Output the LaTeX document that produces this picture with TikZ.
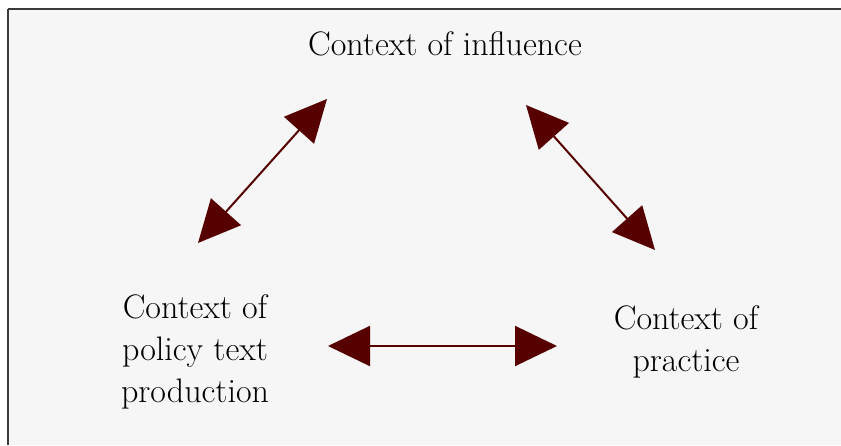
\documentclass[tikz,border=0pt]{standalone}
\usetikzlibrary{arrows.meta}
\definecolor{arrowred}{HTML}{560000}
\definecolor{bggray}{HTML}{F6F6F6}
\definecolor{framegray}{HTML}{3A3A3A}
\begin{document}
\begin{tikzpicture}[x=1pt,y=-1pt,
  label/.style={align=center,inner sep=0pt,font=\fontsize{34}{42}\selectfont},
  twoway/.style={draw=arrowred,line width=2pt,
    {Triangle[length=42pt,width=40pt]}-{Triangle[length=42pt,width=40pt]},fill=arrowred}]
  \useasboundingbox (0,0) rectangle (841,445);
  \fill[white] (0,0) rectangle (841,445);
  \fill[bggray] (8,9) rectangle (841,445);
  \draw[framegray,line width=1.5pt] (8,9) -- (841,9);
  \draw[framegray,line width=2pt] (8,9) -- (8,445);
  % texts
  \node[label,anchor=base] (infl) at (445,55) {Context of influence};
  \node[label,anchor=center] (policy) at (195,352) {Context of\\policy text\\production};
  \node[label,anchor=center] (practice) at (686,342) {Context of\\practice};
  % arrow tips
  \coordinate (lt) at (327,99);
  \coordinate (lb) at (198,243);
  \coordinate (rt) at (526,105);
  \coordinate (rb) at (655,250);
  \coordinate (hl) at (328,346);
  \coordinate (hr) at (557,346);
  \draw[twoway] (lb) -- (lt);
  \draw[twoway] (rt) -- (rb);
  \draw[twoway] (hl) -- (hr);
\end{tikzpicture}
\end{document}
